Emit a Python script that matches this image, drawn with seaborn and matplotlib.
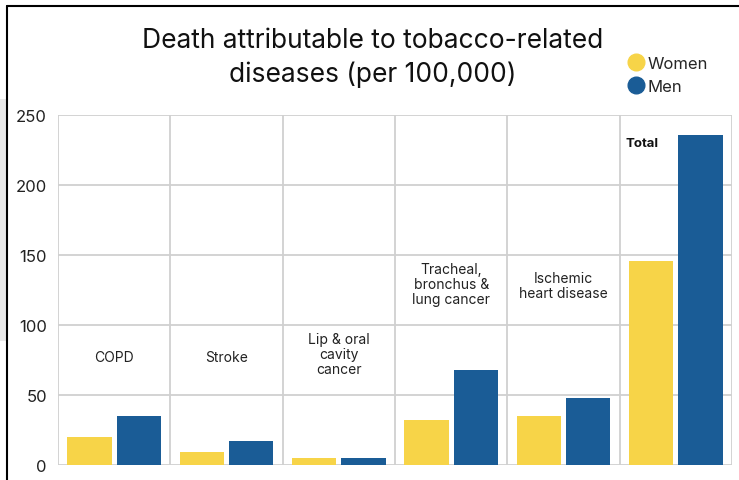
import pandas as pd
import seaborn as sns
import matplotlib.pyplot as plt
from matplotlib.lines import Line2D
from matplotlib.patches import Rectangle

# data
categories = ["COPD", "Stroke", "Lip & oral\ncavity\ncancer",
              "Tracheal,\nbronchus &\nlung cancer", "Ischemic\nheart disease", "Total"]
women = [20, 9, 5, 32, 35, 146]
men = [35, 17, 5, 68, 48, 236]
label_y = [77, 77, 79, 129, 128, 230]

yellow = "#F7D448"
blue = "#1A5C96"

df = pd.DataFrame({
    "cat": categories * 2,
    "value": women + men,
    "sex": ["Women"] * len(categories) + ["Men"] * len(categories),
})

sns.set_style("white")
plt.rcParams["font.family"] = ["Inter", "DejaVu Sans"]

fig = plt.figure(figsize=(7.39, 4.81), dpi=100)
ax = fig.add_axes([58 / 739, 15 / 481, (732 - 58) / 739, (466 - 116) / 481])

sns.barplot(data=df, x="cat", y="value", hue="sex", palette=[yellow, blue],
            width=0.88, gap=0.1, ax=ax, legend=False, saturation=1, linewidth=0)

ax.set_ylim(0, 250)
ax.set_xlim(-0.5, len(categories) - 0.5)
ax.set_yticks(range(0, 251, 50))
ax.set_xticks([i - 0.5 for i in range(len(categories) + 1)])
ax.set_xticklabels([])
ax.tick_params(axis="both", length=0)
ax.tick_params(axis="y", labelsize=12, pad=8, colors="#222222")
ax.grid(True, color="#d0d0d0", linewidth=1.3)
ax.set_axisbelow(True)
for s in ax.spines.values():
    s.set_visible(False)
ax.set_xlabel("")
ax.set_ylabel("")

for i, (c, ly) in enumerate(zip(categories, label_y)):
    if c == "Total":
        ax.text(i - 0.3, ly, c, ha="center", va="center", fontsize=9.5,
                fontweight="bold", color="#111111")
    else:
        ax.text(i, ly, c, ha="center", va="center", fontsize=10,
                color="#222222", linespacing=1.1)

fig.text(373 / 739, 1 - 58 / 481,
         "Death attributable to tobacco-related\ndiseases (per 100,000)",
         ha="center", va="center", fontsize=19, color="#111111", linespacing=1.4)

# legend
handles = [Line2D([], [], marker="o", linestyle="", markersize=12,
                  markerfacecolor=col, markeredgecolor=col) for col in [yellow, blue]]
fig.legend(handles, ["Women", "Men"], loc="center left",
           bbox_to_anchor=(619 / 739, 1 - 76 / 481), frameon=False,
           fontsize=12, handletextpad=0.2, labelspacing=0.5, borderpad=0,
           handlelength=1.0)

# page frame
fig.add_artist(Rectangle((0, 1 - 342 / 481), 7 / 739, 242 / 481,
                         transform=fig.transFigure, color="#e8e8e8", lw=0))
fig.add_artist(Line2D([7 / 739, 1], [1 - 7 / 481] * 2, transform=fig.transFigure,
                      color="black", lw=1.5))
fig.add_artist(Line2D([7 / 739] * 2, [0, 1 - 7 / 481], transform=fig.transFigure,
                      color="black", lw=1.5))

fig.savefig("out.png", dpi=100)
